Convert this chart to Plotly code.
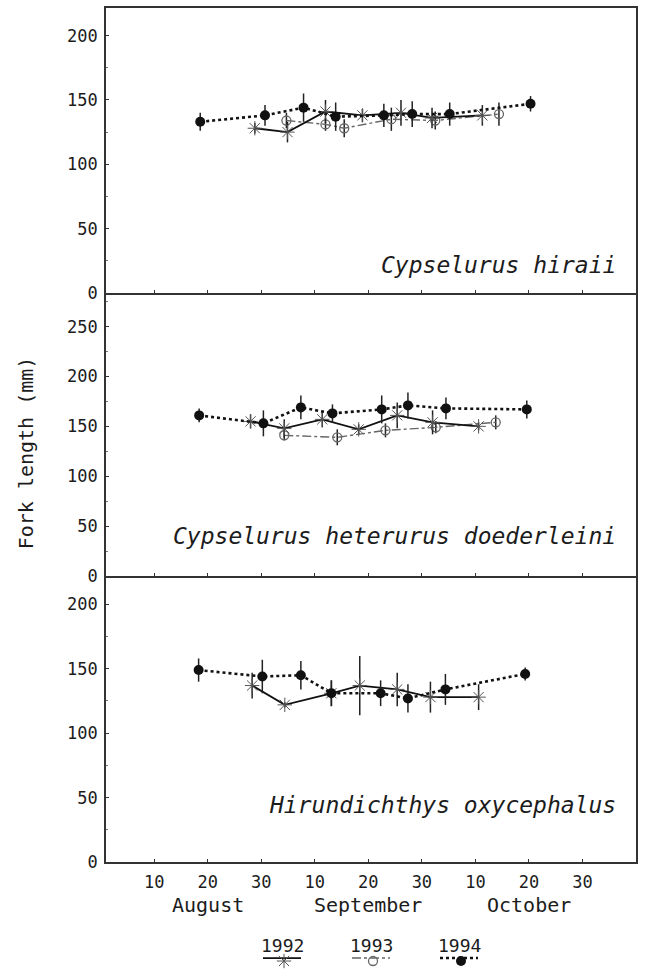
import plotly.graph_objects as go

# ---------------- data ----------------
# x scale: 10-day positions (Aug 10 = 10, Aug 20 = 20, ..., Oct 30 = 90)
tick_vals = [10, 20, 30, 40, 50, 60, 70, 80, 90]
tick_text = ["10", "20", "30", "10", "20", "30", "10", "20", "30"]
months = ["August", "September", "October"]
month_pos = [20, 50, 80]
years = ["1992", "1993", "1994"]
species = ["Cypselurus hiraii", "Cypselurus heterurus doederleini", "Hirundichthys oxycephalus"]

# Cypselurus hiraii
hir_92_x = [28.8, 34.9, 42.0, 48.9, 56.1, 61.9, 71.3]
hir_92_y = [128, 125, 141, 138, 140, 136, 138]
hir_92_e = [4, 8, 9, 5, 10, 8, 8]
hir_93_x = [34.7, 42.0, 45.5, 54.3, 62.5, 74.4]
hir_93_y = [134, 131, 128, 135, 134, 139]
hir_93_e = [6, 5, 7, 9, 7, 9]
hir_94_x = [18.6, 30.7, 37.9, 43.9, 52.9, 58.2, 65.2, 80.3]
hir_94_y = [133, 138, 144, 137, 138, 139, 139, 147]
hir_94_e = [7, 8, 11, 11, 9, 10, 9, 6]

# Cypselurus heterurus doederleini
het_92_x = [28.0, 34.3, 41.4, 48.2, 55.4, 62.0, 70.6]
het_92_y = [155, 148, 157, 147, 161, 154, 150]
het_92_e = [7, 9, 8, 5, 13, 12, 4]
het_93_x = [34.3, 44.2, 53.2, 62.6, 73.8]
het_93_y = [141, 139, 146, 149, 154]
het_93_e = [5, 8, 7, 6, 7]
het_94_x = [18.4, 30.4, 37.4, 43.3, 52.5, 57.4, 64.5, 79.6]
het_94_y = [161, 153, 169, 163, 167, 171, 168, 167]
het_94_e = [7, 13, 12, 9, 14, 13, 11, 9]

# Hirundichthys oxycephalus
oxy_92_x = [28.3, 34.4, 43.1, 48.4, 55.4, 61.6, 70.6]
oxy_92_y = [137, 122, 131, 137, 134, 128, 128]
oxy_92_e = [10, 2, 10, 23, 13, 12, 10]
oxy_94_x = [18.3, 30.2, 37.4, 43.1, 52.3, 57.4, 64.4, 79.3]
oxy_94_y = [149, 144, 145, 131, 131, 127, 134, 146]
oxy_94_e = [9, 13, 11, 10, 10, 11, 12, 5]

y_ranges = [221.5, 283.7, 222.0]
y_ticks = [[0, 50, 100, 150, 200], [0, 50, 100, 150, 200, 250], [0, 50, 100, 150, 200]]

# ---------------- layout constants ----------------
W, H = 652, 973
FONT = "DejaVu Sans Mono"
INK = "#1c1c1c"
FRAME = "#333333"
x_left, x_right = 106, 636
panel_px = [(8, 296), (296, 582), (582, 871)]
key_top = 940

def px_y(py):
    return 1 - py / H

styles = {
    "1992": dict(line=dict(color="#111", width=1.8, dash="solid"),
                 marker=dict(symbol="asterisk-open", size=12, color="#555",
                             line=dict(color="#555", width=1))),
    "1993": dict(line=dict(color="#666", width=1.4, dash="dashdot"),
                 marker=dict(symbol="circle-open", size=9, color="#666",
                             line=dict(color="#666", width=1.3))),
    "1994": dict(line=dict(color="#111", width=2.6, dash="dot"),
                 marker=dict(symbol="circle", size=10, color="#111")),
}

fig = go.Figure()

panels = [
    {"1992": (hir_92_x, hir_92_y, hir_92_e), "1993": (hir_93_x, hir_93_y, hir_93_e),
     "1994": (hir_94_x, hir_94_y, hir_94_e)},
    {"1992": (het_92_x, het_92_y, het_92_e), "1993": (het_93_x, het_93_y, het_93_e),
     "1994": (het_94_x, het_94_y, het_94_e)},
    {"1992": (oxy_92_x, oxy_92_y, oxy_92_e), "1994": (oxy_94_x, oxy_94_y, oxy_94_e)},
]

for i, pdata in enumerate(panels):
    xa = "x" if i == 0 else f"x{i+1}"
    ya = "y" if i == 0 else f"y{i+1}"
    for yr in ["1993", "1992", "1994"]:
        if yr not in pdata:
            continue
        xs, ys, es = pdata[yr]
        st = styles[yr]
        fig.add_trace(go.Scatter(
            x=xs, y=ys, mode="lines+markers", xaxis=xa, yaxis=ya,
            line=st["line"], marker=st["marker"], showlegend=False,
            error_y=dict(type="data", array=es, visible=True, width=0,
                         thickness=1.5, color="#222"),
        ))

layout = dict(
    width=W, height=H, margin=dict(l=0, r=0, t=0, b=0),
    paper_bgcolor="white", plot_bgcolor="rgba(0,0,0,0)",
    font=dict(family=FONT, size=17, color=INK),
    showlegend=False,
)

xdom = [x_left / W, x_right / W]
for i in range(3):
    top, bot = panel_px[i]
    xk = "xaxis" if i == 0 else f"xaxis{i+1}"
    yk = "yaxis" if i == 0 else f"yaxis{i+1}"
    ya = "y" if i == 0 else f"y{i+1}"
    xa = "x" if i == 0 else f"x{i+1}"
    layout[xk] = dict(
        domain=xdom, anchor=ya, range=[1, 100],
        showline=True, mirror=(i == 0), linecolor=FRAME, linewidth=1.8,
        showgrid=False, zeroline=False,
        tickmode="array", tickvals=tick_vals, ticktext=tick_text,
        ticks="inside", ticklen=3, tickcolor=FRAME,
        showticklabels=(i == 2), tickfont=dict(family=FONT, size=17, color=INK),
        ticklabelstandoff=4,
    )
    layout[yk] = dict(
        domain=[px_y(bot), px_y(top)], anchor=xa, range=[0, y_ranges[i]],
        showline=True, mirror=True, linecolor=FRAME, linewidth=1.8,
        showgrid=False, zeroline=False,
        tickmode="array", tickvals=y_ticks[i],
        ticks="inside", ticklen=3, tickcolor=FRAME,
        minor=dict(dtick=25, ticks="inside", ticklen=2, tickcolor="#777"),
        tickfont=dict(family=FONT, size=17, color=INK),
        ticklabelstandoff=3,
    )

# small axis for the key beneath the chart (pixel units)
layout["xaxis4"] = dict(domain=[0, 1], range=[0, W], visible=False, anchor="y4",
                        fixedrange=True)
layout["yaxis4"] = dict(domain=[0, px_y(key_top)], range=[H, key_top], visible=False,
                        anchor="x4", fixedrange=True)

annotations = []
label_y = [268, 542, 813]
for i, name in enumerate(species):
    annotations.append(dict(
        text=f"<i>{name}</i>", xref="paper", yref="paper",
        x=618 / W, y=px_y(label_y[i]), xanchor="right", yanchor="middle",
        showarrow=False, font=dict(family=FONT, size=23, color=INK)))
for m, pos in zip(months, month_pos):
    annotations.append(dict(
        text=m, xref="x3", yref="paper", x=pos, y=px_y(914),
        xanchor="center", yanchor="middle", showarrow=False,
        font=dict(family=FONT, size=20, color=INK)))
annotations.append(dict(
    text="Fork length (mm)", xref="paper", yref="paper", x=26 / W, y=px_y(458),
    textangle=-90, xanchor="center", yanchor="middle", showarrow=False,
    font=dict(family=FONT, size=20, color=INK)))

key_x = [282, 371, 459]
for yr, kx in zip(years, key_x):
    annotations.append(dict(
        text=yr, xref="paper", yref="paper", x=kx / W, y=px_y(955),
        xanchor="center", yanchor="middle", showarrow=False,
        font=dict(family=FONT, size=18, color=INK)))
    st = styles[yr]
    fig.add_trace(go.Scatter(
        x=[kx - 19, kx + 19], y=[968, 968], mode="lines", xaxis="x4", yaxis="y4",
        line=st["line"], showlegend=False, hoverinfo="skip", cliponaxis=False))
    fig.add_trace(go.Scatter(
        x=[kx + 2], y=[971], mode="markers", xaxis="x4", yaxis="y4",
        marker=st["marker"], showlegend=False, hoverinfo="skip", cliponaxis=False))

layout["annotations"] = annotations
fig.update_layout(**layout)
fig.write_html("out.html")
